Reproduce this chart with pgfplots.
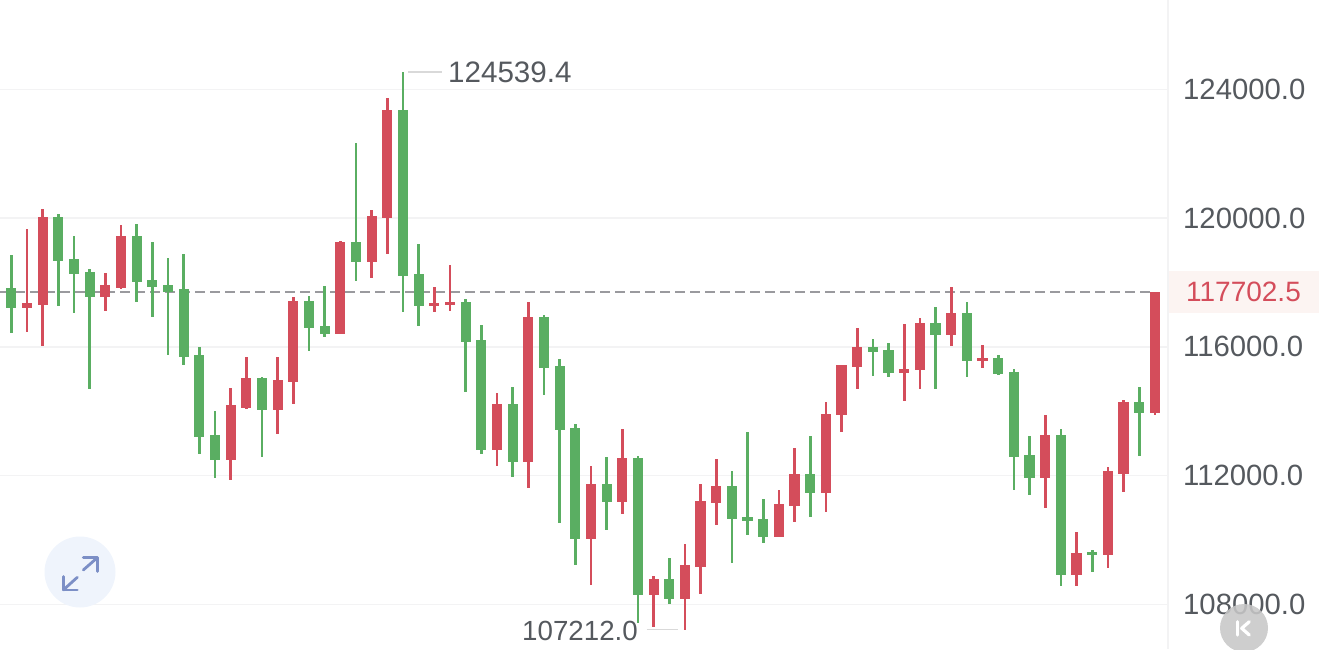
\documentclass[border=0pt]{standalone}
\usepackage{fontspec}
\setmainfont{Liberation Sans}
\usepackage{pgfplots}
\usepackage{pgfplotstable}
\pgfplotsset{compat=1.18}
\definecolor{upred}{HTML}{D44D5B}
\definecolor{downgreen}{HTML}{5AAE62}
\definecolor{gridc}{HTML}{F3F3F4}
\definecolor{txt}{HTML}{55595E}
\definecolor{dashc}{HTML}{9A9A9E}
\definecolor{pinkbg}{HTML}{FCF4F2}
\definecolor{btnbg}{HTML}{EFF4FC}
\definecolor{btnfg}{HTML}{7C8FC6}
\pgfplotstableread{
i t b h l
1 117362 117196 119661 116471
2 120023 117300 120282 116026
6 117911 117548 118283 117124
7 119443 117838 119785 117807
14 114183 112484 114721 111863
15 115032 114110 115674 114058
17 114970 114048 115674 113302
18 117434 114918 117548 114234
21 119267 116399 119278 116388
23 120065 118625 120261 118139
24 123348 120013 123720 118884
27 117362 117269 117849 117093
28 117403 117300 118532 117124
31 114234 112784 114555 112308
33 116927 112422 117383 111625
37 111728 110040 112308 108601
39 112546 111179 113437 110817
41 108787 108300 108880 107285
43 109212 108176 109874 107212
44 111210 109160 111728 108321
45 111676 111159 112526 110475
49 111117 110102 111552 110090
50 112039 111055 112847 110568
52 113924 111469 114286 110869
53 115446 113872 115446 113364
54 115995 115384 116585 114700
57 115322 115197 116699 114317
58 116751 115280 116885 114680
60 117041 116368 117849 116026
62 115663 115550 116057 115353
66 113271 111915 113872 111003
68 109605 108901 110237 108580
70 112132 109543 112277 109139
71 114276 112060 114338 111500
73 117702.5 113955 117702.5 113893
}\redtable
\pgfplotstableread{
i t b h l
0 117838 117196 118843 116419
3 120023 118677 120116 117269
4 118729 118252 119443 117041
5 118315 117548 118408 114680
8 119443 118025 119816 117403
9 118076 117859 119247 116937
10 117921 117693 118750 115736
11 117797 115684 118894 115436
12 115736 113209 115984 112660
13 113271 112484 114006 111935
16 115032 114048 115052 112588
19 117424 116585 117569 115881
20 116647 116399 117890 116295
22 119267 118625 122322 118056
25 123348 118211 124539.4 117093
26 118273 117269 119195 116658
29 117393 116150 117496 114609
30 116202 112784 116678 112660
32 114234 112422 114742 111966
34 116927 115342 116989 114514
35 115405 113416 115612 110537
36 113478 110040 113603 109212
38 111728 111179 112577 110309
40 112546 108300 112598 107430
42 108777 108166 109429 108021
46 111676 110651 112132 109294
47 110703 110599 113344 110164
48 110651 110102 111262 109916
51 112039 111469 113230 110724
55 115995 115839 116233 115083
56 115902 115197 116109 115073
59 116751 116368 117227 114680
61 117041 115550 117383 115052
63 115653 115156 115757 115125
64 115218 112577 115322 111542
65 112629 111915 113220 111397
67 113271 108901 113447 108580
69 109626 109543 109678 109015
72 114276 113955 114742 112619
}\greentable
\newcommand{\wicks}[2]{%
\addplot[draw=none, mark=none, forget plot,
  error bars/.cd, y dir=both, y explicit, error mark=none,
  error bar style={#2, line width=2.5pt}]
  table[x=i, y expr={(\thisrow{h}+\thisrow{l})/2}, y error expr={(\thisrow{h}-\thisrow{l})/2}] {#1};
\addplot[draw=none, mark=none, forget plot,
  error bars/.cd, y dir=both, y explicit, error mark=none,
  error bar style={#2, line width=10.3pt}]
  table[x=i, y expr={(\thisrow{t}+\thisrow{b})/2}, y error expr={(\thisrow{t}-\thisrow{b})/2}] {#1};
}
\begin{document}
\begin{tikzpicture}[x=1pt,y=1pt]
\useasboundingbox (0,0) rectangle (1319,649);
% price tag background
\fill[pinkbg] (1168,336.5) rectangle (1319,378);
\begin{axis}[
  at={(0,0)}, anchor=south west,
  scale only axis, width=1168pt, height=649pt,
  xmin=-0.723, xmax=73.83, ymin=106615, ymax=126777,
  axis x line=none,
  axis y line*=right,
  y axis line style={gridc, line width=1.5pt},
  xtick=\empty,
  ytick={108000,112000,116000,120000,124000},
  scaled y ticks=false,
  major tick length=0pt,
  ymajorgrids,
  grid style={gridc, line width=1.5pt},
  yticklabel style={anchor=west, inner sep=0pt, xshift=15pt, text=txt, font=\fontsize{29.3}{29.3}\selectfont,
    /pgf/number format/fixed, /pgf/number format/fixed zerofill, /pgf/number format/precision=1,
    /pgf/number format/1000 sep={}, /pgf/number format/assume math mode=true},
  clip=false,
]
\addplot[dashc, line width=1.4pt, dash pattern=on 10pt off 5pt, forget plot] coordinates {(-0.723,117702.5) (73,117702.5)};
\wicks{\greentable}{downgreen}
\wicks{\redtable}{upred}
% extreme labels
\addplot[black!15, line width=1.2pt, forget plot] coordinates {(25.32,124539.4) (27.49,124539.4)};
\addplot[black!15, line width=1.2pt, forget plot] coordinates {(40.57,107212) (42.55,107212)};
\node[anchor=west, inner sep=0pt, text=txt, font=\fontsize{29.6}{29.6}\selectfont] at (axis cs:27.87,124539.4) {124539.4};
\node[anchor=east, inner sep=0pt, text=txt, font=\fontsize{27.7}{27.7}\selectfont] at (axis cs:40.0,107180) {107212.0};
\node[anchor=center, inner sep=0pt, text=upred, font=\fontsize{28}{28}\selectfont] at (axis cs:78.65,117702.5) {117702.5};
\end{axis}
% expand button
\fill[btnbg] (80,77) circle (35.5);
\begin{scope}[btnfg, line width=2.8pt, line cap=round, line join=round]
\draw (83.3,79) -- (97.3,91.3);
\draw (83.3,91.3) -- (97.3,91.3) -- (97.3,77.5);
\draw (77.3,71.7) -- (63.3,59);
\draw (63.3,72.5) -- (63.3,59) -- (77.3,59);
\end{scope}
% K button
\fill[black!22, opacity=.88] (1244,21) circle (24);
\begin{scope}[white, line width=3.2pt, line cap=round, line join=round]
\draw (1237.3,27.3) -- (1237.3,14);
\draw (1249.3,27.3) -- (1241.7,20.7) -- (1249.3,14);
\end{scope}
\end{tikzpicture}
\end{document}
